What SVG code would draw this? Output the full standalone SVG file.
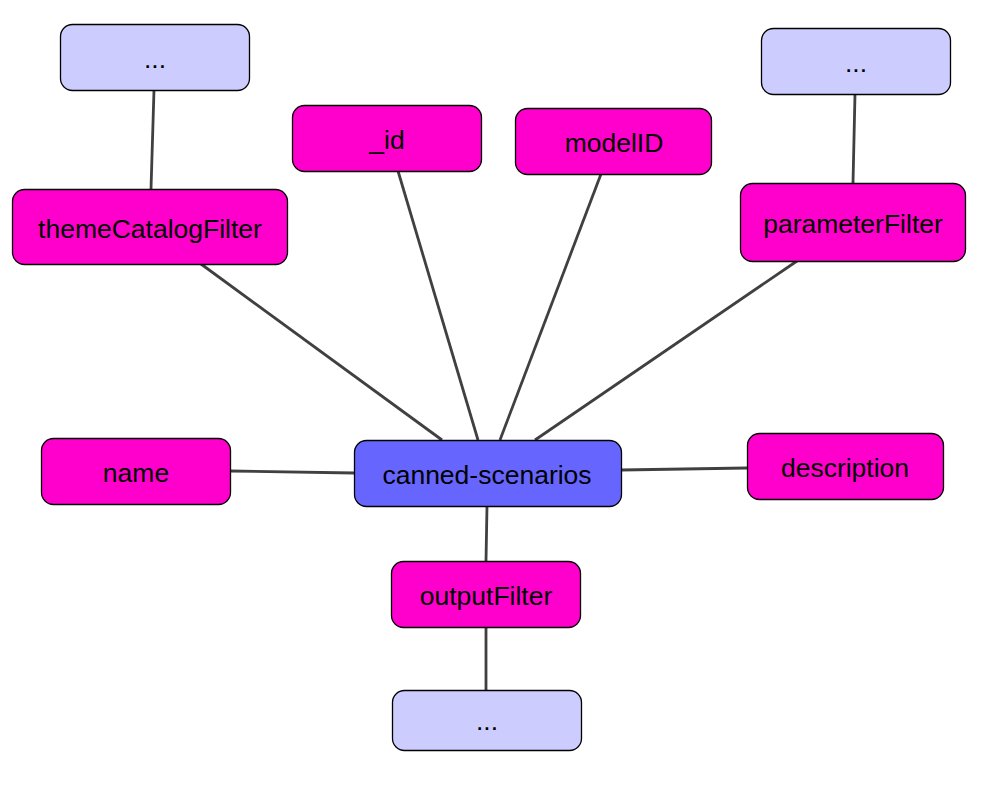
<svg xmlns="http://www.w3.org/2000/svg" width="991" height="788" viewBox="0 0 991 788">
<style>
rect{stroke:#000;stroke-width:1.3}
.m{fill:#ff00cc}
.l{fill:#ccccff}
.b{fill:#6666ff}
text{font-family:"Liberation Sans",Arial,sans-serif;font-size:26.5px;fill:#000;text-anchor:middle;dominant-baseline:central}
#edges line{stroke:#404040;stroke-width:2.8}
</style>
<rect width="991" height="788" fill="#fff" style="stroke:none"/>
<g id="edges">
<line x1="154" y1="90" x2="151" y2="189"/>
<line x1="201" y1="264" x2="442" y2="440"/>
<line x1="398" y1="171" x2="478" y2="440"/>
<line x1="601" y1="174" x2="500" y2="440"/>
<line x1="797" y1="261" x2="535" y2="440"/>
<line x1="855" y1="94" x2="853" y2="183"/>
<line x1="230" y1="471" x2="354" y2="473"/>
<line x1="621" y1="470" x2="747" y2="468"/>
<line x1="487" y1="506" x2="486" y2="561"/>
<line x1="486" y1="627" x2="486" y2="690"/>
</g>
<g id="n_dots1"><rect class="l" x="60.5" y="24.5" width="189" height="66" rx="12"/><text x="155" y="59">...</text></g>
<g id="n_theme"><rect class="m" x="12.5" y="189.5" width="275" height="75" rx="12"/><text x="150" y="229">themeCatalogFilter</text></g>
<g id="n_id"><rect class="m" x="292.5" y="105.5" width="189" height="66" rx="12"/><text x="387" y="140">_id</text></g>
<g id="n_model"><rect class="m" x="515.5" y="108.5" width="196" height="66" rx="12"/><text x="614" y="143">modelID</text></g>
<g id="n_dots2"><rect class="l" x="761.5" y="28.5" width="189" height="66" rx="12"/><text x="856" y="63">...</text></g>
<g id="n_param"><rect class="m" x="740.5" y="183.5" width="225" height="78" rx="12"/><text x="853" y="224">parameterFilter</text></g>
<g id="n_name"><rect class="m" x="41.5" y="438.5" width="189" height="66" rx="12"/><text x="136" y="473">name</text></g>
<g id="n_canned"><rect class="b" x="354.5" y="440.5" width="267" height="66" rx="12"/><text x="487" y="475">canned-scenarios</text></g>
<g id="n_desc"><rect class="m" x="747.5" y="433.5" width="196" height="66" rx="12"/><text x="845" y="468">description</text></g>
<g id="n_output"><rect class="m" x="391.5" y="561.5" width="189" height="66" rx="12"/><text x="486" y="596">outputFilter</text></g>
<g id="n_dots3"><rect class="l" x="392.5" y="690.5" width="189" height="60" rx="12"/><text x="487" y="721">...</text></g>
</svg>
